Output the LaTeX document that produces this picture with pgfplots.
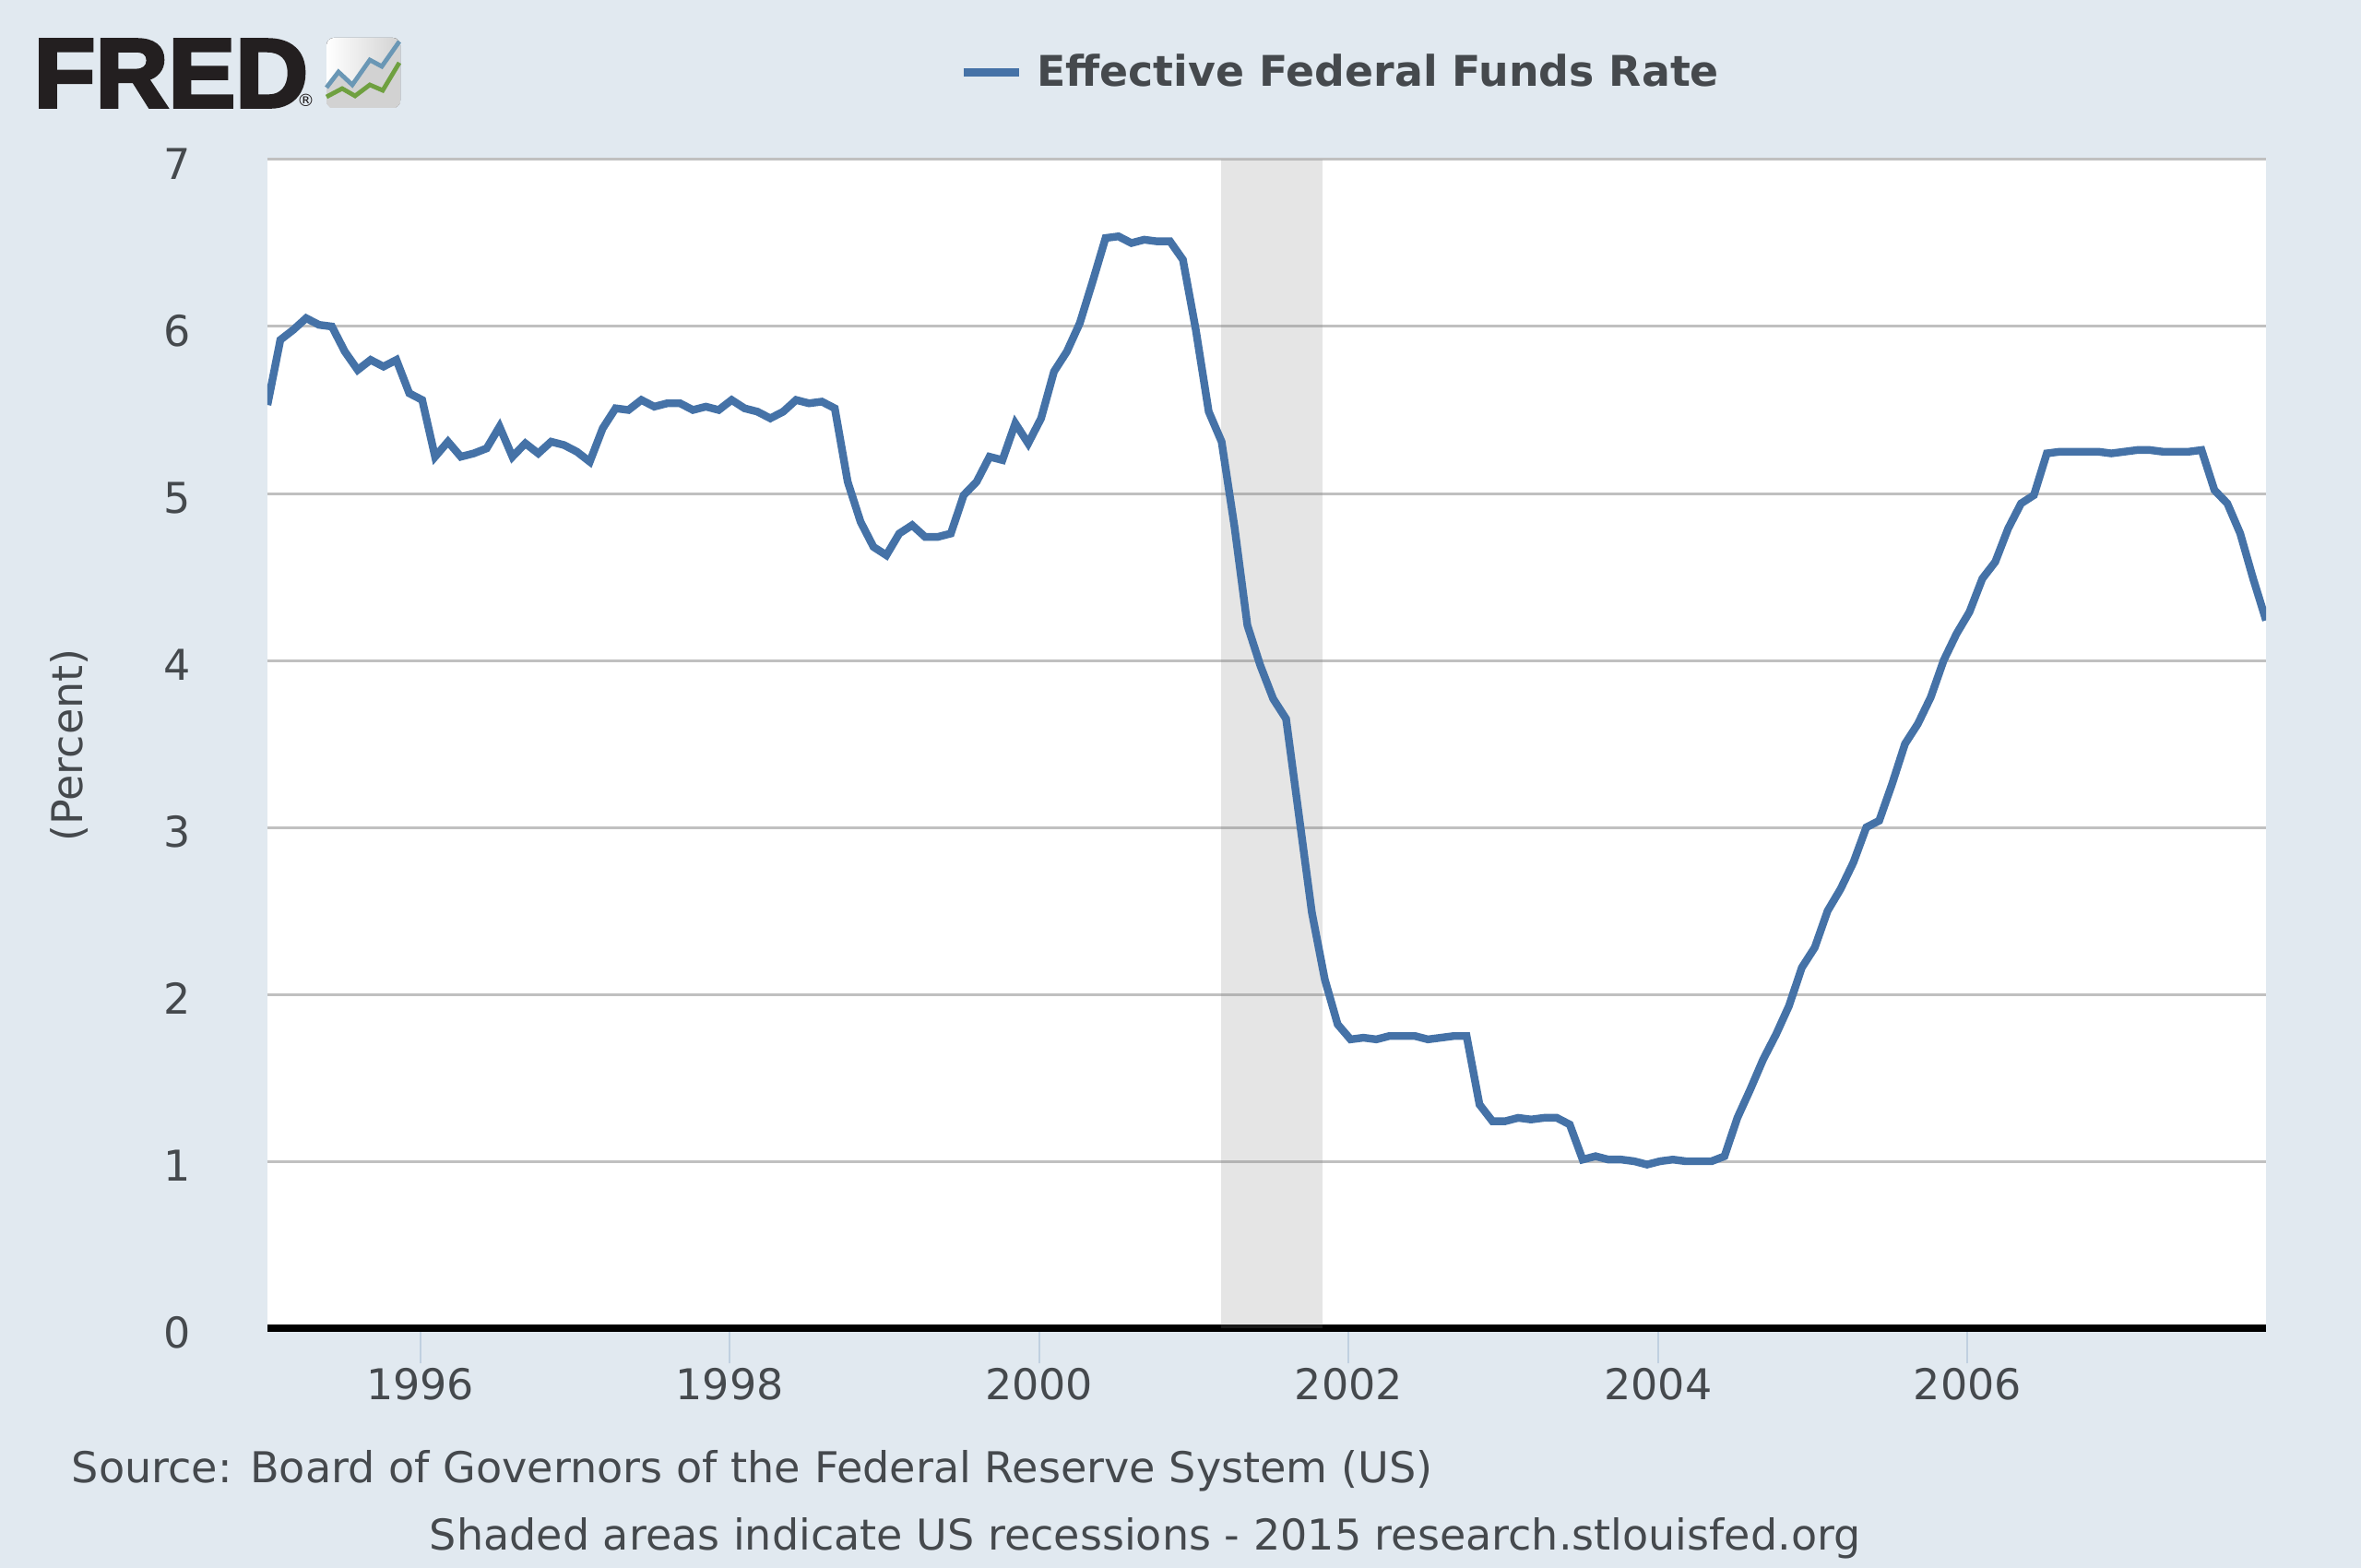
\documentclass[border=0pt]{standalone}
\usepackage{fontspec}
\usepackage{pgfplots}
\pgfplotsset{compat=1.18}
\setmainfont{DejaVu Sans}
\newfontfamily\fredfont[BoldFeatures={FakeBold=3.5}]{Liberation Sans}
\definecolor{fredbg}{HTML}{E1E9F0}
\definecolor{fredline}{HTML}{4572A7}
\definecolor{fredgrid}{HTML}{C0C0C0}
\definecolor{fredtext}{HTML}{45494D}
\definecolor{fredtick}{HTML}{C0D0E0}
\definecolor{fredlogo}{HTML}{231F20}
\definecolor{logoblue}{HTML}{6A97B5}
\definecolor{logogreen}{HTML}{6FA040}
\pgfplotstableread{
m rate
0 5.53
1 5.92
2 5.98
3 6.05
4 6.01
5 6.00
6 5.85
7 5.74
8 5.80
9 5.76
10 5.80
11 5.60
12 5.56
13 5.22
14 5.31
15 5.22
16 5.24
17 5.27
18 5.40
19 5.22
20 5.30
21 5.24
22 5.31
23 5.29
24 5.25
25 5.19
26 5.39
27 5.51
28 5.50
29 5.56
30 5.52
31 5.54
32 5.54
33 5.50
34 5.52
35 5.50
36 5.56
37 5.51
38 5.49
39 5.45
40 5.49
41 5.56
42 5.54
43 5.55
44 5.51
45 5.07
46 4.83
47 4.68
48 4.63
49 4.76
50 4.81
51 4.74
52 4.74
53 4.76
54 4.99
55 5.07
56 5.22
57 5.20
58 5.42
59 5.30
60 5.45
61 5.73
62 5.85
63 6.02
64 6.27
65 6.53
66 6.54
67 6.50
68 6.52
69 6.51
70 6.51
71 6.40
72 5.98
73 5.49
74 5.31
75 4.80
76 4.21
77 3.97
78 3.77
79 3.65
80 3.07
81 2.49
82 2.09
83 1.82
84 1.73
85 1.74
86 1.73
87 1.75
88 1.75
89 1.75
90 1.73
91 1.74
92 1.75
93 1.75
94 1.34
95 1.24
96 1.24
97 1.26
98 1.25
99 1.26
100 1.26
101 1.22
102 1.01
103 1.03
104 1.01
105 1.01
106 1.00
107 0.98
108 1.00
109 1.01
110 1.00
111 1.00
112 1.00
113 1.03
114 1.26
115 1.43
116 1.61
117 1.76
118 1.93
119 2.16
120 2.28
121 2.50
122 2.63
123 2.79
124 3.00
125 3.04
126 3.26
127 3.50
128 3.62
129 3.78
130 4.00
131 4.16
132 4.29
133 4.49
134 4.59
135 4.79
136 4.94
137 4.99
138 5.24
139 5.25
140 5.25
141 5.25
142 5.25
143 5.24
144 5.25
145 5.26
146 5.26
147 5.25
148 5.25
149 5.25
150 5.26
151 5.02
152 4.94
153 4.76
154 4.49
155 4.24
}\fedfunds
\begin{document}
\begin{tikzpicture}
\useasboundingbox (0,0) rectangle (640pt,-425pt);
\fill[fredbg] (0,0) rectangle (640pt,-425pt);
\begin{axis}[
  at={(72.5pt,-360pt)}, anchor=south west,
  scale only axis, width=541.75pt, height=316.75pt,
  xmin=0, xmax=155, ymin=0, ymax=7,
  axis background/.style={fill=white},
  axis x line=bottom, axis y line=left,
  x axis line style={draw=black, line width=2pt, -},
  y axis line style={draw=none, -},
  xtick={11.85,35.85,59.85,83.85,107.85,131.85},
  xticklabels={1996,1998,2000,2002,2004,2006},
  ytick={0,1,2,3,4,5,6,7},
  ymajorgrids,
  major grid style={draw=fredgrid, line width=0.75pt},
  tick align=outside,
  major tick length=9.5pt,
  xtick style={draw=fredtick, line width=0.5pt},
  ytick style={draw=none},
  /pgf/number format/assume math mode=true,
  tick label style={font=\fontsize{11.5}{13}\selectfont, text=fredtext},
  xticklabel style={inner sep=0pt, yshift=-1.2pt},
  yticklabel style={inner sep=0pt, anchor=east, xshift=-11pt, yshift=-1.2pt},
  ylabel={(Percent)},
  every axis y label/.style={at={(axis description cs:-0.0992,0.4988)}, rotate=90, anchor=center},
  label style={font=\fontsize{11.5}{13}\selectfont, text=fredtext},
  legend style={at={(0.346,1.0745)}, anchor=west, draw=none, fill=none, inner sep=0pt,
    font=\fontsize{11.45}{13}\selectfont\bfseries, text=fredtext},
  legend image code/.code={\draw[#1] (0pt,0pt) -- (15pt,0pt);},
  clip=true,
]
\addplot[draw=none, forget plot, fill=gray, fill opacity=0.2] coordinates {(73.95,0) (81.85,0) (81.85,7) (73.95,7)} -- cycle;
\addplot[fredline, line width=2.1pt, line join=miter] table[x=m, y=rate] {\fedfunds};
\addlegendentry{\hspace{1.8pt}Effective Federal Funds Rate}
\end{axis}
\begin{scope}[x=0.25pt, y=-0.25pt]
  % logo
  \node[anchor=base west, inner sep=0pt, text=fredlogo, xscale=1.03] at (36,116) {\fontsize{26.5}{26.5}\fredfont\bfseries FRED\kern-2.9pt{\normalfont\fontsize{4.6}{5}\selectfont\textregistered}};
  \fill[rounded corners=2pt, left color=white, right color=gray!35] (354,41) rectangle (434,117);
  \fill[rounded corners=0pt, color=gray!35] (354,96) -- (367,78) -- (382,92) -- (401,65) -- (414,72) -- (433,45) -- (434,112) -- (429,117) -- (358,117) -- (354,112) -- cycle;
  \draw[color=logoblue, line width=1.2pt] (354,95) -- (367,78) -- (382,92) -- (401,65) -- (414,72) -- (433,45);
  \draw[color=logogreen, line width=1.2pt] (354,105) -- (371,96) -- (385,104) -- (401,92) -- (415,98) -- (433,68);
  % source
  \node[anchor=base west, inner sep=0pt, text=fredtext] at (77,1607) {\fontsize{11.53}{13}\selectfont Source: Board of Governors of the Federal Reserve System (US)};
  \node[anchor=base west, inner sep=0pt, text=fredtext] at (465,1680) {\fontsize{11.51}{13}\selectfont Shaded areas indicate US recessions - 2015 research.stlouisfed.org};
\end{scope}
\end{tikzpicture}
\end{document}
